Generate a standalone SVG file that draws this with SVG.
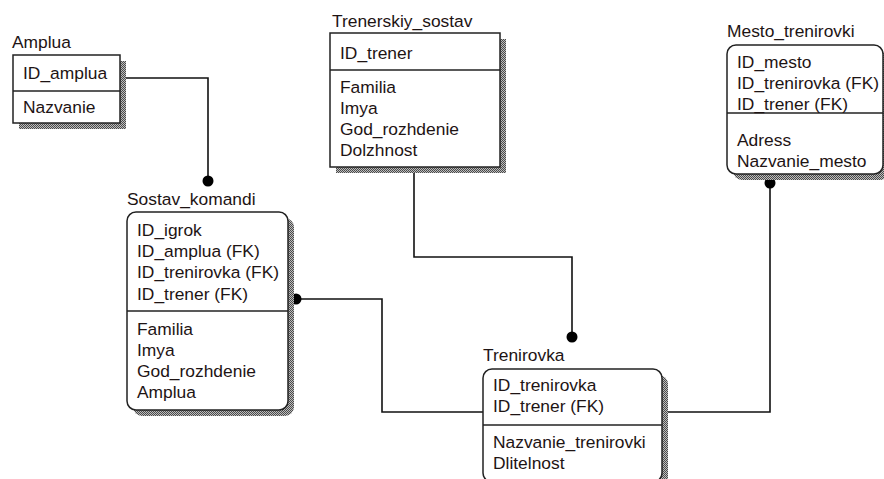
<svg xmlns="http://www.w3.org/2000/svg" width="884" height="479" viewBox="0 0 884 479">
<style>
text{font-family:"Liberation Sans",Arial,sans-serif;font-size:17.4px;fill:#1e1414}
.box{fill:#fff;stroke:#222;stroke-width:1.5}
.div{stroke:#222;stroke-width:1.5}
.sh{fill:url(#hatch)}
.conn{fill:none;stroke:#111;stroke-width:1.6}
.dot{fill:#000}
</style>
<defs>
<pattern id="hatch" width="2" height="2" patternUnits="userSpaceOnUse">
<rect width="2" height="2" fill="#bdbdbd"/>
<rect width="1" height="1" fill="#4a4a4a"/>
<rect x="1" y="1" width="1" height="1" fill="#4a4a4a"/>
</pattern>
</defs>
<rect width="884" height="479" fill="#fff"/>

<g id="connectors">
<polyline class="conn" points="120,78 208,78 208,181"/>
<circle class="dot" cx="208" cy="181" r="5.5"/>
<polyline class="conn" points="414,167 414,257 572,257 572,337"/>
<circle class="dot" cx="572" cy="337" r="5.5"/>
<polyline class="conn" points="296,299 382,299 382,412 483,412"/>
<circle class="dot" cx="296" cy="299" r="5.5"/>
<polyline class="conn" points="662,412 770,412 770,183"/>
<circle class="dot" cx="770" cy="183" r="5.5"/>
</g>

<g id="Amplua">
<rect class="sh" x="19" y="61" width="107" height="68"/>
<rect class="box" x="13" y="55" width="107" height="68"/>
<line class="div" x1="13" y1="91" x2="120" y2="91"/>
<text x="12" y="48">Amplua</text>
<text x="23" y="79">ID_amplua</text>
<text x="23" y="113">Nazvanie</text>
</g>

<g id="Trenerskiy_sostav">
<rect class="sh" x="336" y="39" width="170" height="134"/>
<rect class="box" x="330" y="33" width="170" height="134"/>
<line class="div" x1="330" y1="70" x2="500" y2="70"/>
<text x="332" y="27">Trenerskiy_sostav</text>
<text x="340" y="59">ID_trener</text>
<text x="340" y="93">Familia</text>
<text x="340" y="114">Imya</text>
<text x="340" y="135">God_rozhdenie</text>
<text x="340" y="156">Dolzhnost</text>
</g>

<g id="Mesto_trenirovki">
<rect class="sh" x="733" y="51" width="156" height="129" rx="9"/>
<rect class="box" x="727" y="45" width="156" height="129" rx="9"/>
<line class="div" x1="727" y1="113" x2="883" y2="113"/>
<text x="727" y="37">Mesto_trenirovki</text>
<text x="737" y="68">ID_mesto</text>
<text x="737" y="89">ID_trenirovka (FK)</text>
<text x="737" y="110">ID_trener (FK)</text>
<text x="737" y="146">Adress</text>
<text x="737" y="167">Nazvanie_mesto</text>
</g>

<g id="Sostav_komandi">
<rect class="sh" x="133" y="218" width="161" height="198" rx="9"/>
<rect class="box" x="127" y="212" width="161" height="198" rx="9"/>
<line class="div" x1="127" y1="311" x2="288" y2="311"/>
<text x="127" y="205">Sostav_komandi</text>
<text x="137" y="236">ID_igrok</text>
<text x="137" y="257">ID_amplua (FK)</text>
<text x="137" y="278">ID_trenirovka (FK)</text>
<text x="137" y="300">ID_trener (FK)</text>
<text x="137" y="335">Familia</text>
<text x="137" y="356">Imya</text>
<text x="137" y="377">God_rozhdenie</text>
<text x="137" y="398">Amplua</text>
</g>

<g id="Trenirovka">
<rect class="sh" x="489" y="375" width="179" height="113" rx="9"/>
<rect class="box" x="483" y="369" width="179" height="113" rx="9"/>
<line class="div" x1="483" y1="425" x2="662" y2="425"/>
<text x="483" y="361">Trenirovka</text>
<text x="493" y="391">ID_trenirovka</text>
<text x="493" y="412">ID_trener (FK)</text>
<text x="493" y="448">Nazvanie_trenirovki</text>
<text x="493" y="469">Dlitelnost</text>
</g>
</svg>
